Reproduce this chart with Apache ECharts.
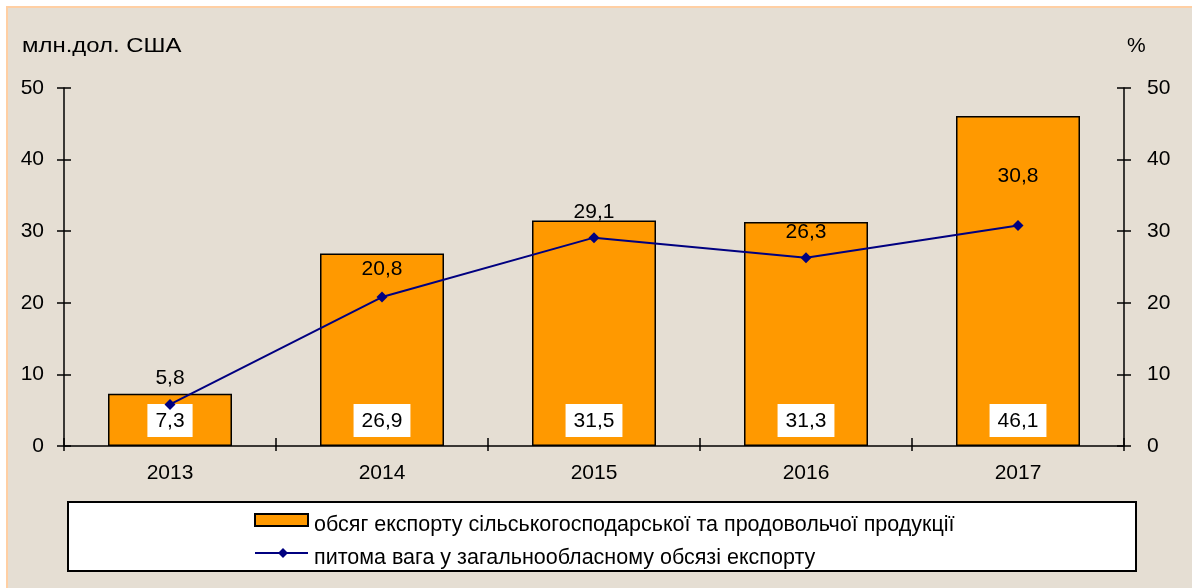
<!DOCTYPE html>
<html><head><meta charset="utf-8">
<script src="https://cdn.jsdelivr.net/npm/echarts@6/dist/echarts.min.js"></script>
<style>html,body{margin:0;padding:0;background:#fff}#c{width:1192px;height:588px}</style>
</head><body><div id="c"></div>
<script>
const categories = ['2013','2014','2015','2016','2017'];
const exportValues = [7.3, 26.9, 31.5, 31.3, 46.1];
const shareValues = [5.8, 20.8, 29.1, 26.3, 30.8];
const shareLabelGap = [10, 12, 9, 9, 33];
const yTicks = {min: 0, max: 50, interval: 10};
const leftTitle = 'млн.дол. США';
const rightTitle = '%';
const seriesNames = ['обсяг експорту сільськогосподарської та продовольчої продукції',
  'питома вага у загальнообласному обсязі експорту'];

const font = 'Liberation Sans, Arial, sans-serif';
const fmt = p => String(p.value).replace('.', ',');
const chart = echarts.init(document.getElementById('c'), null, {renderer: 'canvas'});
const axisCommon = {
  type: 'value', min: yTicks.min, max: yTicks.max, interval: yTicks.interval,
  splitLine: {show: false},
  axisLine: {show: true, lineStyle: {color: '#000', width: 1.5}},
  axisTick: {show: true, length: 7, lineStyle: {color: '#000', width: 1.5}},
  axisLabel: {color: '#000', fontSize: 21, fontFamily: font}
};
const innerTick = Object.assign({}, axisCommon, {
  axisLine: {show: false}, axisLabel: {show: false},
  axisTick: {show: true, inside: true, length: 7, lineStyle: {color: '#000', width: 1.5}}
});
const legendFont = '21.5px ' + font;
chart.setOption({
  backgroundColor: '#fff',
  animation: false,
  graphic: [
    {type: 'rect', shape: {x: 7, y: 7, width: 1200, height: 600}, style: {fill: '#E5DED3', stroke: '#FFCFA3', lineWidth: 2}, z: -10},
    {type: 'rect', shape: {x: 68, y: 502, width: 1068, height: 69}, style: {fill: '#fff', stroke: '#000', lineWidth: 2}, z: -5},
    {type: 'text', x: 22, y: 46, scaleX: 1.14, style: {text: leftTitle, font: '21px ' + font, fill: '#000', verticalAlign: 'middle'}},
    {type: 'text', x: 1127, y: 46, style: {text: rightTitle, font: '21px ' + font, fill: '#000', verticalAlign: 'middle'}},
    // legend
    {type: 'rect', shape: {x: 255, y: 514, width: 53, height: 12}, style: {fill: '#FF9900', stroke: '#000', lineWidth: 2}},
    {type: 'text', x: 314, y: 525, style: {text: seriesNames[0], font: legendFont, fill: '#000', verticalAlign: 'middle'}},
    {type: 'line', shape: {x1: 255, y1: 553, x2: 308, y2: 553}, style: {stroke: '#000080', lineWidth: 2}},
    {type: 'polygon', shape: {points: [[283, 548], [288, 553], [283, 558], [278, 553]]}, style: {fill: '#000080'}},
    {type: 'text', x: 314, y: 558, style: {text: seriesNames[1], font: legendFont, fill: '#000', verticalAlign: 'middle'}}
  ],
  grid: {left: 64, right: 68, top: 88, bottom: 142},
  xAxis: [
    {type: 'category', data: categories, boundaryGap: true,
     axisLine: {lineStyle: {color: '#000', width: 1.5}},
     axisTick: {show: true, length: 5, interval: 0, lineStyle: {color: '#000', width: 1.5}},
     axisLabel: {color: '#000', fontSize: 21, fontFamily: font, margin: 17}},
    {type: 'category', data: categories, boundaryGap: true, position: 'bottom',
     axisLine: {show: false}, axisLabel: {show: false},
     axisTick: {show: true, inside: true, length: 8, interval: 0, lineStyle: {color: '#000', width: 1.5}}}
  ],
  yAxis: [
    Object.assign({}, axisCommon, {position: 'left', axisLabel: Object.assign({}, axisCommon.axisLabel, {margin: 20})}),
    Object.assign({}, axisCommon, {position: 'right', axisLabel: Object.assign({}, axisCommon.axisLabel, {margin: 23})}),
    Object.assign({}, innerTick, {position: 'left'}),
    Object.assign({}, innerTick, {position: 'right'})
  ],
  series: [
    {name: seriesNames[0], type: 'bar', data: exportValues, barWidth: 124,
     itemStyle: {color: '#FF9900', borderColor: '#000', borderWidth: 1.5},
     label: {show: true, position: 'insideBottom', distance: 9, color: '#000', fontSize: 21, fontFamily: font,
       backgroundColor: '#fff', padding: [7, 8, 5, 8], formatter: fmt}},
    {name: seriesNames[1], type: 'line', yAxisIndex: 1,
     data: shareValues.map((v, i) => ({value: v, label: {distance: shareLabelGap[i]}})),
     lineStyle: {color: '#000080', width: 2}, itemStyle: {color: '#000080'},
     symbol: 'diamond', symbolSize: 11, z: 5,
     label: {show: true, position: 'top', color: '#000', fontSize: 21, fontFamily: font, formatter: fmt}}
  ]
});
</script></body></html>
